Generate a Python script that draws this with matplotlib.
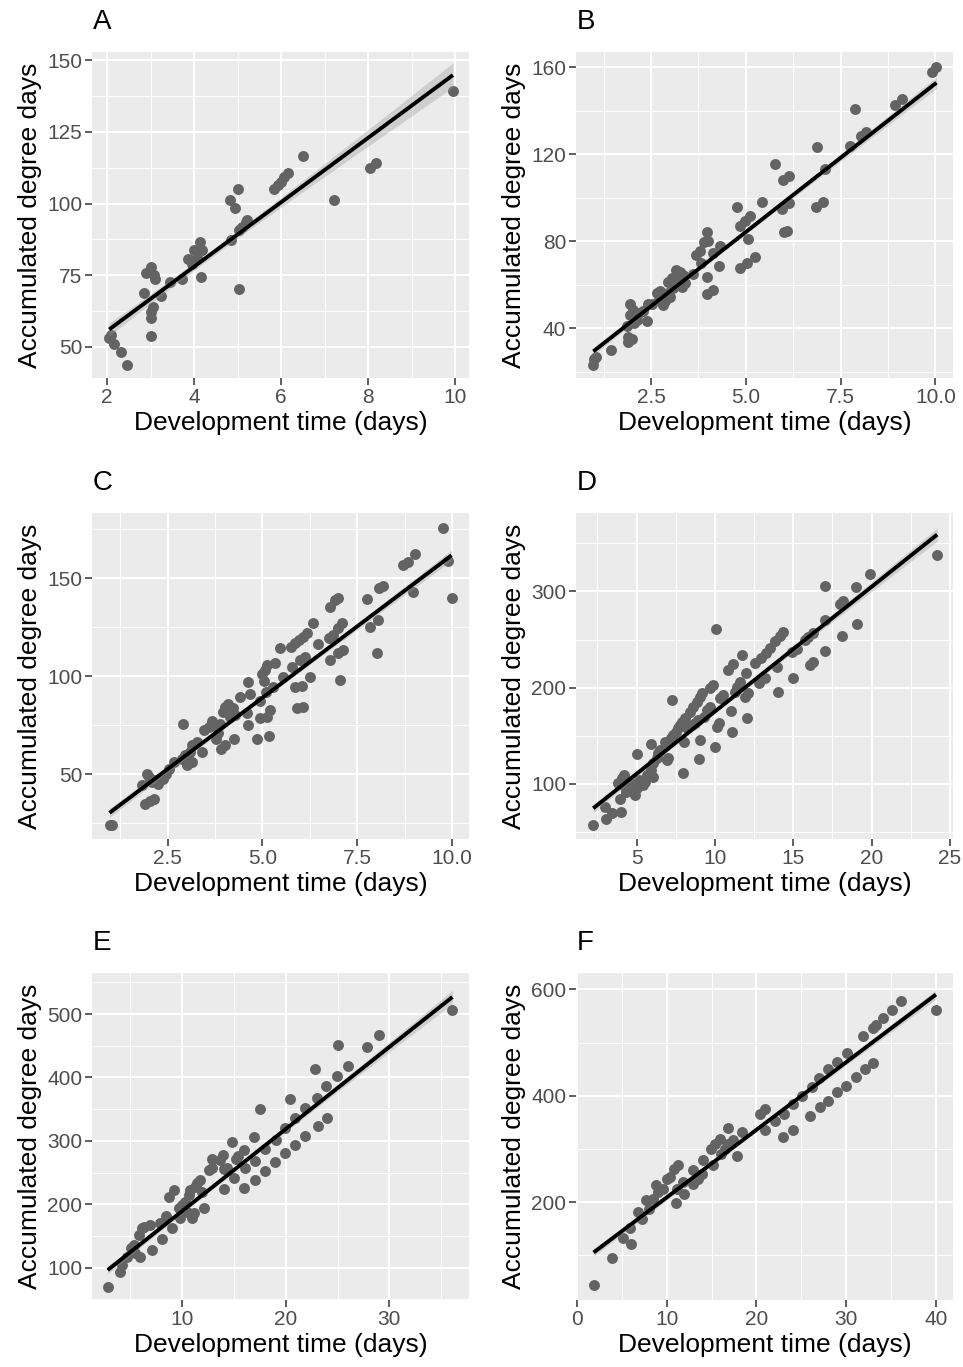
import numpy as np
import matplotlib
matplotlib.use('Agg')
import matplotlib.pyplot as plt
from matplotlib.ticker import MultipleLocator, FormatStrFormatter

plt.rcParams['font.family'] = ['Liberation Sans', 'DejaVu Sans']

# ---- panel A ----
a_x = [2.05, 2.10, 2.15, 2.32, 2.46, 2.86, 2.90, 3.00, 3.07, 3.10,
       3.06, 3.00, 3.00, 3.00, 3.25, 3.45, 3.73, 3.86, 4.00, 4.07,
       4.13, 4.19, 4.15, 3.96, 4.84, 4.83, 4.94, 5.00, 5.03, 5.03,
       5.10, 5.19, 5.22, 5.84, 5.92, 6.00, 6.07, 6.15, 6.50, 7.22,
       8.05, 8.18, 9.95]
a_y = [53.0, 54.0, 51.0, 48.3, 43.8, 68.8, 75.6, 77.9, 75.0, 73.8,
       64.0, 62.2, 60.0, 53.8, 67.7, 72.7, 73.8, 80.8, 83.7, 81.4,
       86.6, 83.7, 74.4, 79.0, 87.2, 101.4, 98.6, 105.0, 70.3, 90.7,
       91.9, 93.6, 94.2, 105.2, 106.4, 107.6, 109.3, 110.5, 116.6, 101.2,
       112.4, 114.3, 139.2]

# ---- panel B ----
b_x = [1.00, 0.98, 1.05, 1.45, 1.96, 1.96, 2.03, 1.86, 1.90, 1.90,
       1.99, 2.05, 2.12, 2.19, 2.30, 2.40, 2.43, 2.52, 2.65, 2.74,
       2.83, 2.87, 2.96, 2.96, 3.05, 3.09, 3.16, 3.22, 3.26, 3.31,
       3.41, 3.62, 3.70, 3.79, 3.90, 3.99, 4.01, 3.83, 3.97, 3.99,
       4.14, 4.14, 4.32, 4.30, 4.76, 4.85, 4.85, 4.98, 5.11, 5.07,
       5.02, 5.24, 5.44, 5.77, 5.99, 6.14, 5.95, 6.15, 6.00, 6.09,
       6.87, 6.85, 7.04, 7.09, 7.75, 7.88, 8.04, 8.17, 8.93, 9.13,
       9.90, 10.03, 2.70, 3.00, 3.12, 3.35]
b_y = [26.0, 23.4, 27.0, 30.2, 46.3, 51.3, 48.5, 41.0, 36.3, 34.0,
       35.1, 42.4, 44.0, 47.0, 47.8, 43.2, 51.3, 51.3, 56.2, 57.0,
       50.8, 52.4, 56.2, 61.5, 63.0, 58.5, 66.6, 62.3, 66.1, 59.2,
       60.8, 65.0, 73.7, 75.7, 79.8, 84.1, 80.3, 69.9, 63.5, 55.9,
       57.7, 74.5, 77.9, 68.7, 95.6, 87.2, 67.6, 89.5, 91.6, 80.9,
       69.9, 73.0, 98.2, 115.4, 108.1, 110.1, 94.7, 97.7, 84.1, 84.9,
       123.1, 95.9, 98.2, 113.0, 123.8, 140.9, 128.4, 130.2, 142.4, 145.2,
       157.7, 160.0, 53.0, 54.5, 60.0, 64.5]

# ---- panel C ----
c_x = [0.97, 1.04, 1.82, 1.96, 2.00, 1.91, 2.04, 2.13, 2.09, 2.18,
       2.26, 2.39, 2.46, 2.55, 2.66, 2.88, 2.90, 2.96, 3.01, 3.08,
       3.14, 3.14, 3.27, 3.40, 3.45, 3.58, 3.67, 3.71, 3.78, 3.84,
       3.89, 3.91, 4.02, 3.96, 4.02, 4.10, 4.15, 4.22, 4.25, 4.28,
       4.41, 4.59, 4.61, 4.63, 4.68, 4.85, 4.94, 4.94, 4.98, 5.03,
       5.07, 5.10, 5.11, 5.11, 5.16, 5.20, 5.29, 5.33, 5.46, 5.55,
       5.75, 5.77, 5.86, 5.86, 5.90, 5.95, 6.00, 6.04, 6.06, 6.08,
       6.12, 6.17, 6.25, 6.34, 6.47, 6.74, 6.78, 6.78, 6.87, 6.91,
       7.00, 7.00, 7.09, 7.00, 7.11, 7.03, 7.75, 7.84, 8.05, 8.01,
       8.08, 8.17, 8.71, 8.82, 8.96, 9.02, 9.75, 9.89, 9.98]
c_y = [24.3, 24.3, 44.4, 50.3, 48.6, 35.0, 36.7, 37.6, 46.0, 47.0,
       45.0, 47.8, 50.3, 52.9, 56.3, 58.0, 75.9, 59.7, 54.6, 61.4,
       56.3, 64.8, 66.5, 61.4, 72.8, 74.2, 77.1, 75.0, 68.2, 71.1,
       75.9, 63.1, 64.8, 81.9, 84.4, 86.1, 79.3, 83.6, 68.2, 80.2,
       89.2, 81.5, 97.1, 75.0, 91.2, 68.2, 87.5, 78.5, 101.4, 97.7,
       103.1, 92.1, 105.7, 79.5, 69.4, 82.9, 94.4, 106.6, 114.2, 99.7,
       114.7, 104.9, 116.8, 94.4, 83.7, 118.5, 108.3, 95.3, 120.2, 84.4,
       110.0, 121.9, 99.7, 127.0, 116.4, 119.3, 108.3, 135.5, 121.0, 138.9,
       139.8, 124.4, 127.0, 111.7, 113.4, 98.0, 139.3, 125.3, 128.7, 112.0,
       144.9, 146.1, 156.8, 158.0, 142.8, 162.3, 175.6, 158.5, 139.8]

# ---- panel D ----
d_x = [2.23, 2.98, 3.04, 3.40, 3.98, 3.94, 3.83, 4.04, 4.19, 4.15,
       4.32, 4.57, 4.74, 4.89, 5.00, 5.00, 5.17, 5.38, 5.53, 5.64,
       5.89, 5.89, 6.06, 6.02, 6.28, 6.38, 6.49, 6.81, 6.91, 7.02,
       7.23, 7.17, 7.34, 7.51, 7.66, 7.77, 7.87, 7.98, 8.02, 8.09,
       8.19, 8.40, 8.51, 8.62, 8.72, 8.83, 8.94, 9.04, 9.00, 9.04,
       9.15, 9.30, 9.47, 9.68, 9.68, 9.85, 10.00, 10.06, 10.11, 10.28,
       10.32, 10.53, 10.85, 11.00, 11.06, 11.17, 11.28, 11.43, 11.60, 11.70,
       11.91, 12.02, 11.98, 12.13, 12.55, 12.83, 12.91, 13.19, 13.26, 13.51,
       13.83, 13.94, 14.04, 14.15, 14.36, 14.89, 15.00, 15.21, 15.74, 15.96,
       16.06, 16.23, 16.23, 17.02, 17.02, 17.02, 17.98, 18.19, 18.09, 19.00,
       19.04, 19.89, 24.19]
d_y = [57.4, 76.4, 63.3, 69.5, 71.2, 84.0, 101.4, 105.9, 109.4, 99.0,
       92.0, 100.7, 93.8, 88.6, 130.9, 95.5, 104.2, 99.0, 102.4, 109.4,
       141.6, 114.6, 107.6, 121.5, 126.7, 131.9, 135.4, 144.0, 125.0, 127.4,
       187.3, 147.5, 151.0, 154.4, 157.9, 161.4, 164.8, 111.1, 144.0, 168.3,
       157.9, 175.2, 161.4, 180.4, 163.1, 185.6, 166.6, 145.8, 125.7, 190.1,
       194.3, 170.0, 177.0, 180.4, 199.5, 202.9, 138.8, 261.2, 159.6, 163.1,
       189.1, 192.5, 217.9, 175.9, 154.4, 224.8, 196.0, 201.2, 206.4, 234.1,
       190.8, 168.3, 215.1, 194.3, 225.5, 204.7, 230.7, 209.9, 235.9, 241.1,
       248.0, 222.0, 196.0, 253.2, 257.4, 236.9, 209.9, 240.0, 249.7, 252.5,
       223.7, 226.5, 256.7, 270.5, 305.9, 238.6, 287.2, 289.6, 253.9, 304.2,
       266.4, 318.0, 337.4]

# ---- panel E ----
e_x = [2.84, 4.00, 4.22, 4.70, 5.09, 5.35, 5.51, 5.92, 5.83, 6.15,
       6.37, 6.95, 7.11, 7.91, 8.07, 8.49, 8.72, 9.04, 9.20, 9.68,
       9.84, 10.00, 10.32, 10.48, 10.64, 10.80, 10.96, 11.12, 11.28, 11.44,
       11.70, 11.93, 12.15, 12.57, 12.89, 12.89, 13.69, 13.95, 14.01, 14.01,
       14.33, 14.82, 14.98, 15.23, 15.36, 15.94, 16.00, 16.10, 16.97, 17.06,
       17.06, 17.48, 18.03, 18.03, 18.99, 19.09, 19.95, 19.95, 20.37, 20.91,
       20.91, 21.88, 21.88, 22.84, 23.00, 23.07, 23.90, 24.03, 24.93, 25.02,
       26.05, 27.88, 29.04, 36.07]
e_y = [70.0, 93.7, 104.2, 117.4, 130.5, 135.8, 122.6, 117.4, 151.6, 162.1,
       164.7, 167.4, 127.9, 170.0, 144.7, 181.6, 212.1, 162.1, 222.6, 193.7,
       177.9, 198.9, 204.2, 188.4, 214.7, 222.6, 177.9, 185.8, 227.9, 233.2,
       238.4, 220.0, 193.7, 253.2, 256.8, 271.0, 270.0, 277.9, 223.7, 255.3,
       256.8, 297.4, 241.0, 271.0, 275.3, 225.3, 285.8, 256.8, 306.8, 267.4,
       238.4, 350.5, 286.8, 251.6, 265.8, 301.6, 280.5, 320.0, 365.8, 293.7,
       335.8, 307.9, 351.6, 413.7, 367.4, 323.7, 385.8, 335.8, 401.6, 451.6,
       417.4, 447.9, 466.3, 505.8]

# ---- panel F ----
f_x = [1.86, 3.90, 5.12, 5.94, 6.01, 6.86, 7.24, 7.72, 7.98, 8.53,
       8.83, 9.09, 9.57, 10.02, 10.32, 10.83, 11.21, 11.02, 11.13, 11.95,
       11.87, 12.99, 12.99, 13.54, 13.91, 14.03, 15.14, 14.92, 15.40, 15.96,
       16.03, 16.88, 16.51, 16.88, 17.44, 17.88, 18.37, 20.41, 20.96, 20.96,
       22.08, 23.01, 23.08, 24.04, 24.12, 25.05, 25.97, 26.16, 27.09, 27.01,
       28.01, 28.01, 28.94, 29.02, 29.98, 30.06, 31.09, 32.10, 31.91, 33.02,
       32.95, 33.32, 34.06, 35.06, 36.07, 40.00]
f_y = [43.8, 93.8, 132.5, 151.3, 121.9, 181.3, 168.8, 203.1, 187.5, 206.3,
       231.3, 218.8, 225.0, 243.8, 246.9, 262.5, 268.8, 198.1, 225.0, 215.6,
       237.5, 259.4, 234.4, 243.8, 253.1, 280.0, 268.8, 300.0, 309.4, 318.8,
       290.6, 338.8, 300.0, 309.4, 317.5, 287.5, 331.3, 365.6, 375.0, 336.3,
       353.1, 321.9, 365.6, 336.3, 384.4, 400.0, 362.5, 415.6, 378.1, 432.5,
       390.6, 450.0, 406.3, 464.4, 418.8, 481.3, 435.6, 450.0, 512.5, 462.5,
       528.1, 532.5, 546.9, 561.3, 578.1, 561.3]

# lm fit per panel (A..F), intercept and slope
lm_intercept = [33.0, 16.1, 16.3, 45.8, 59.3, 81.3]
lm_slope = [11.24, 13.63, 14.56, 12.95, 12.96, 12.73]

W, H = 963, 1367
fig = plt.figure(figsize=(W / 100, H / 100), dpi=100)


def px_axes(left, top, right, bottom):
    return fig.add_axes([left / W, 1 - bottom / H, (right - left) / W, (bottom - top) / H])


def panel(ax, x, y, a, b, xlim, ylim, xmaj, ymaj, xfmt, yfmt):
    x = np.asarray(x, float)
    y = np.asarray(y, float)
    ax.set_facecolor('#EBEBEB')
    for s in ax.spines.values():
        s.set_visible(False)
    ax.xaxis.set_major_locator(MultipleLocator(xmaj))
    ax.xaxis.set_minor_locator(MultipleLocator(xmaj / 2))
    ax.yaxis.set_major_locator(MultipleLocator(ymaj))
    ax.yaxis.set_minor_locator(MultipleLocator(ymaj / 2))
    ax.xaxis.set_major_formatter(FormatStrFormatter(xfmt))
    ax.yaxis.set_major_formatter(FormatStrFormatter(yfmt))
    ax.grid(which='major', color='white', lw=1.45)
    ax.grid(which='minor', color='white', lw=0.7)
    ax.set_axisbelow(True)
    ax.tick_params(which='major', length=5, width=1.1, color='#333333',
                   labelsize=15, labelcolor='#4D4D4D', pad=2)
    ax.tick_params(which='minor', length=0)

    ax.scatter(x, y, s=62, color='#636363', linewidths=0, zorder=3)

    # fitted line with a thin confidence ribbon
    xs = np.linspace(x.min(), x.max(), 100)
    fit = a + b * xs
    n = len(x)
    s = np.sqrt(np.sum((y - (a + b * x)) ** 2) / (n - 2))
    se = s * np.sqrt(1 / n + (xs - x.mean()) ** 2 / np.sum((x - x.mean()) ** 2))
    ax.fill_between(xs, fit - se, fit + se, color='#999999',
                    alpha=0.35, lw=0, zorder=4)
    ax.plot(xs, fit, color='black', lw=2.8, zorder=5, solid_capstyle='butt')

    ax.set_xlim(*xlim)
    ax.set_ylim(*ylim)
    ax.set_xlabel('Development time (days)', fontsize=19, labelpad=3)
    ax.set_ylabel('Accumulated degree days', fontsize=19, labelpad=4)


lefts = [92, 576]
rights = [469, 953]
tops = [52, 513, 973]
bottoms = [378, 839, 1300]

panels = [
    ('A', a_x, a_y, (1.655, 10.32), (39.1, 152.9), 2, 25, '%d', '%d'),
    ('B', b_x, b_y, (0.523, 10.466), (17.25, 166.9), 2.5, 40, '%.1f', '%d'),
    ('C', c_x, c_y, (0.509, 10.44), (17.1, 183.2), 2.5, 50, '%.1f', '%d'),
    ('D', d_x, d_y, (1.13, 25.2), (42.8, 381.5), 5, 100, '%d', '%d'),
    ('E', e_x, e_y, (1.33, 37.67), (48.9, 564.7), 10, 100, '%d', '%d'),
    ('F', f_x, f_y, (-0.1, 41.9), (15.6, 631), 10, 200, '%d', '%d'),
]

for i, (lab, x, y, xl, yl, xm, ym, xf, yf) in enumerate(panels):
    r, c = divmod(i, 2)
    ax = px_axes(lefts[c], tops[r], rights[c], bottoms[r])
    panel(ax, x, y, lm_intercept[i], lm_slope[i], xl, yl, xm, ym, xf, yf)
    fig.text((lefts[c] + 1) / W, 1 - (tops[r] - 30) / H, lab, fontsize=20,
             ha='left', va='center')

fig.savefig('out.png', dpi=100)
